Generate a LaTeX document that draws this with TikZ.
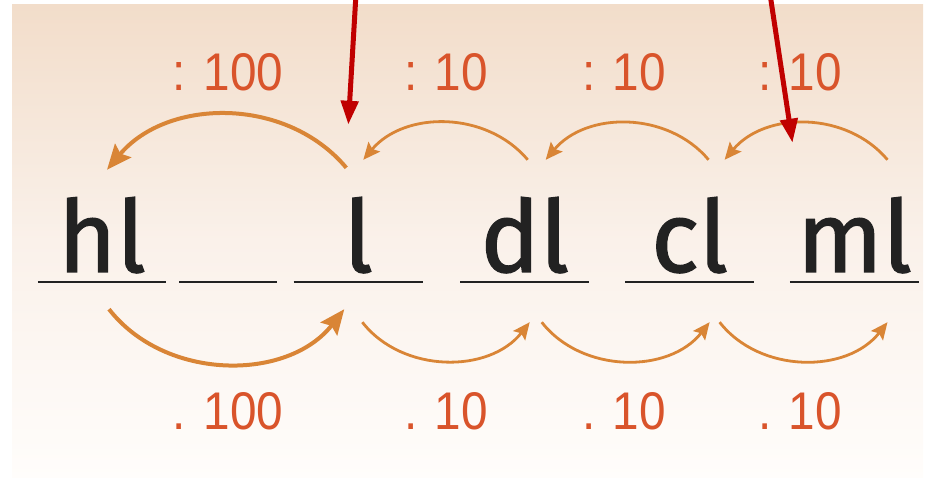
\documentclass[tikz,border=0pt]{standalone}
\usepackage{fontspec}
\setmainfont{Liberation Sans}
\newfontfamily\wordfont[FakeBold=1.2]{Fira Sans}
\newfontfamily\numfont[FakeStretch=0.9]{Liberation Sans}
\usetikzlibrary{arrows.meta,positioning,calc}
\definecolor{bgtop}{HTML}{F2DDCA}
\definecolor{bgmid}{HTML}{FAF1EA}
\definecolor{bgbot}{HTML}{FFFDFB}
\definecolor{jump}{HTML}{D98536}
\definecolor{numred}{HTML}{D9542B}
\definecolor{ink}{HTML}{222222}
\definecolor{pinred}{HTML}{C00000}

\begin{document}
\begin{tikzpicture}[x=1pt,y=1pt,
  slot/.style={inner sep=0pt,minimum width=128pt,text height=75pt,text depth=10pt,
    font=\wordfont\fontsize{100}{100}\selectfont,text=ink},
  uline/.style={ink,line width=2.5pt},
  lbl/.style={inner sep=0pt,anchor=base,text=numred,font=\numfont\fontsize{53}{53}\selectfont},
  big/.style={jump,line width=4pt,-{Stealth[length=25pt,width=21pt,inset=4pt]}},
  hop/.style={jump,line width=2.8pt,-{Stealth[length=17pt,width=15pt,inset=3pt]}},
  pin/.style={pinred,line width=5pt,-{Triangle[length=24pt,width=17pt]}}
]
\useasboundingbox (0,0) rectangle (926,478);
\shade[top color=bgtop,bottom color=bgbot,middle color=bgmid] (12,0) rectangle (923,473);
% the units, each on its line
\node[slot,anchor=base] (hl) at (102,206) {hl};
\node[slot,minimum width=97pt,right=13pt of hl] (dal) {};
\node[slot,minimum width=129pt,right=17pt of dal] (l) {l};
\node[slot,minimum width=129pt,right=37pt of l] (dl) {dl};
\node[slot,right=36pt of dl] (cl) {cl};
\node[slot,minimum width=129pt,right=36pt of cl] (ml) {ml};
\foreach \s in {hl,dal,l,dl,cl,ml}
  \draw[uline] (\s.south west) -- (\s.south east);
% dividing: arcs to the left
\draw[big] ($(l.north)+(-12,29)$) to[out=130,in=50] ($(hl.north)+(5,27)$);
\draw[hop] ($(dl.north)+(3,37)$) to[out=130,in=50] ($(l.north)+(5,37)$);
\draw[hop] ($(cl.north)+(19,37)$) to[out=130,in=50] ($(dl.north)+(21,37)$);
\draw[hop] ($(ml.north)+(33,37)$) to[out=130,in=50] ($(cl.north)+(35,37)$);
% multiplying: arcs to the right
\draw[big] ($(hl.south)+(7,-27)$) to[out=-52,in=-128] ($(l.south)+(-14,-27)$);
\draw[hop] ($(l.south)+(4,-40)$) to[out=-52,in=-128] ($(dl.south)+(5,-40)$);
\draw[hop] ($(dl.south)+(17,-40)$) to[out=-52,in=-128] ($(cl.south)+(20,-40)$);
\draw[hop] ($(cl.south)+(30,-40)$) to[out=-52,in=-128] ($(ml.south)+(33,-40)$);
% factors
\node[lbl] (div1) at (228,387) {: 100};
\node[lbl] (div2) at (446,387) {: 10};
\node[lbl] (div3) at (624,387) {: 10};
\node[lbl] (div4) at (800,387) {: 10};
\node[lbl] (mul1) at (228,48) {. 100};
\node[lbl] (mul2) at (446,48) {. 10};
\node[lbl] (mul3) at (624,48) {. 10};
\node[lbl] (mul4) at (800,48) {. 10};
% red pointers from above
\coordinate (p1) at (356,484);
\coordinate (p2) at (770,484);
\draw[pin] (p1) -- ($(l.north)+(-10,72)$);
\draw[pin] (p2) -- ($(ml.north)+(-62,54)$);
\end{tikzpicture}
\end{document}
